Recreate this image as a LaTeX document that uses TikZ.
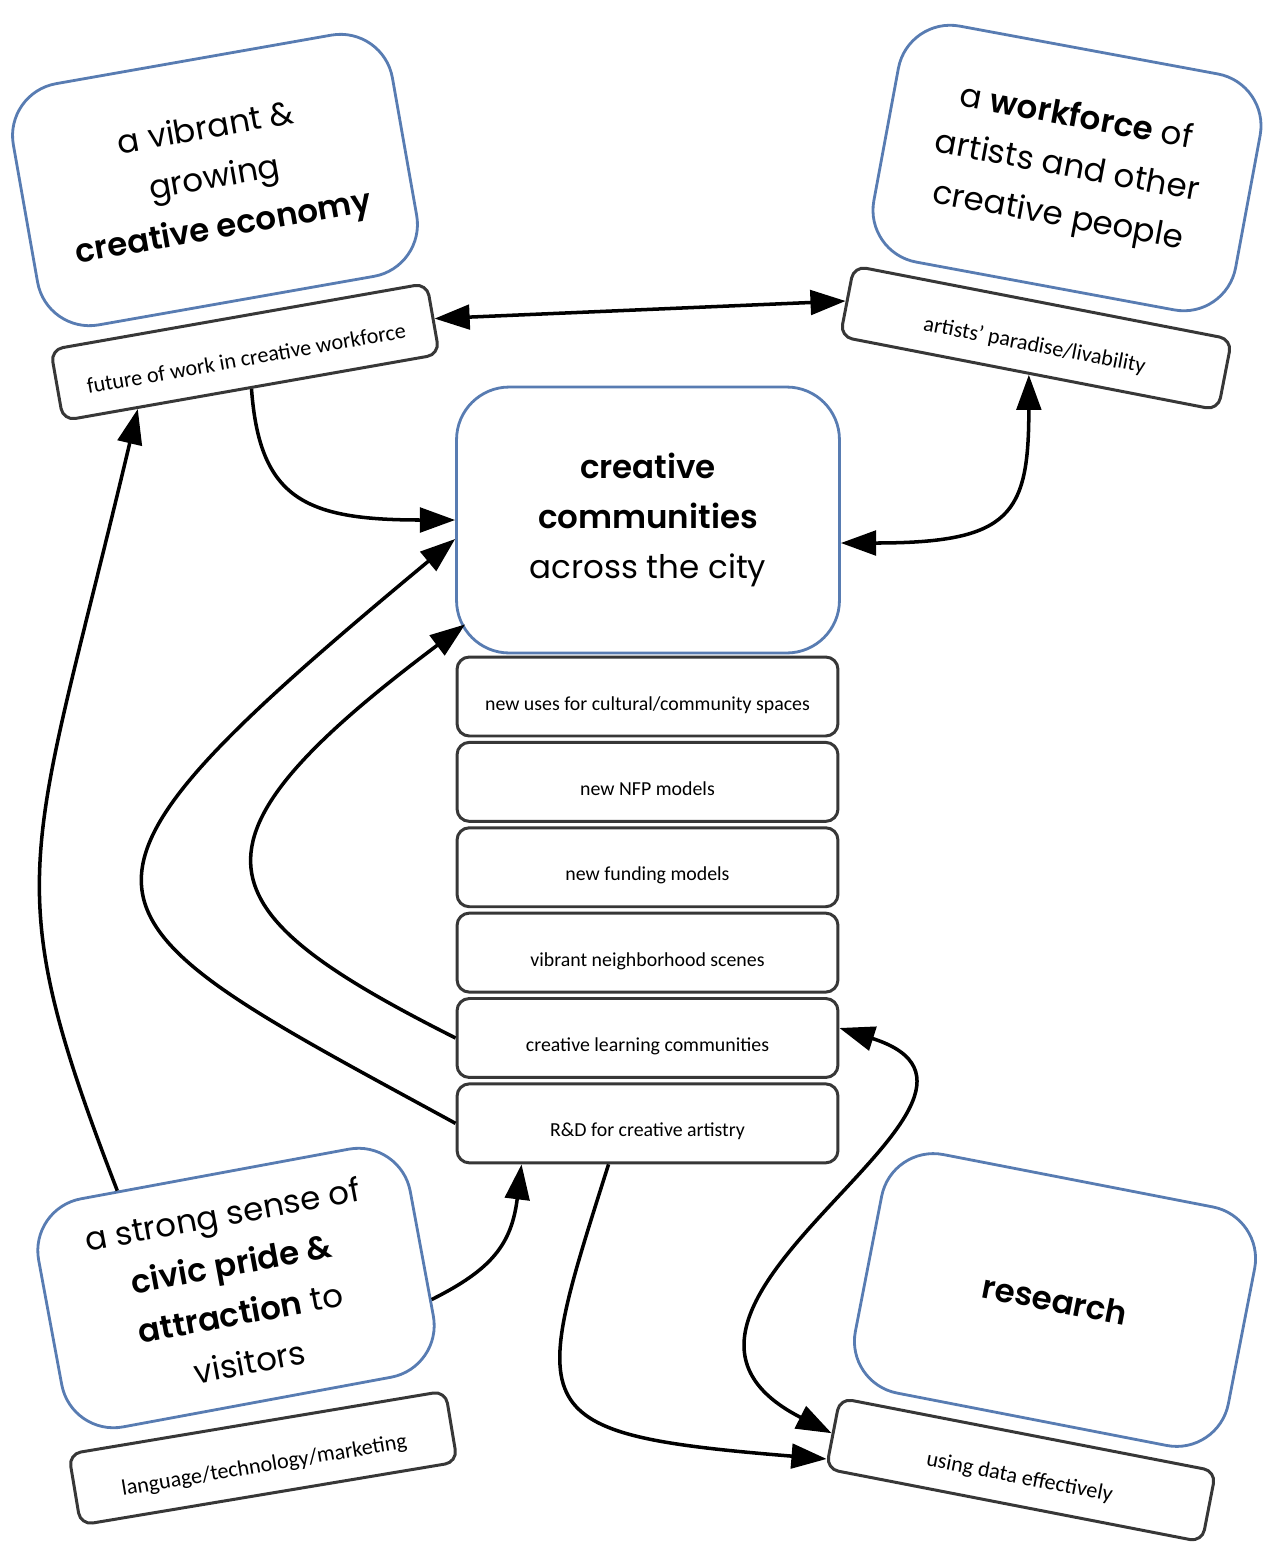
\documentclass[tikz,border=0pt]{standalone}
\usepackage{fontspec}
\newfontfamily\gothic{Poppins}[BoldFont={Poppins SemiBold}]
\newfontfamily\calib{Carlito}
\usetikzlibrary{positioning,calc,arrows.meta}
\definecolor{boxblue}{RGB}{88,124,178}
\definecolor{tagedge}{RGB}{55,55,55}
\tikzset{
	bigbox/.style={draw=boxblue,line width=1.6pt,fill=white,rounded corners=30pt,align=center,inner sep=0pt,font=\gothic\fontsize{18.5}{28.5}\selectfont},
	tagbox/.style={draw=tagedge,line width=1.7pt,fill=white,rounded corners=7pt,inner sep=0pt,minimum width=7.64cm,text height=1.0cm,text depth=0.44cm,font=\calib\fontsize{12.6}{14}\selectfont},
	stackbox/.style={tagbox,minimum width=7.62cm,text height=1.06cm,text depth=0.52cm,font=\calib\fontsize{11.3}{13}\selectfont,text=black},
	link/.style={line width=2pt,-{Triangle[length=20pt,width=14pt]}},
	twoway/.style={line width=2pt,{Triangle[length=20pt,width=14pt]}-{Triangle[length=20pt,width=14pt]}}
}
\begin{document}
\begin{tikzpicture}[x=0.02cm,y=0.02cm]
	\useasboundingbox (0,0) rectangle (1281,-1543);
	% the four corners
	\node[bigbox,minimum width=7.7cm,minimum height=4.9cm,rotate=10] (econ) at (215,-180) {a vibrant \&\\growing\\\textbf{creative economy}};
	\node[bigbox,minimum width=7.36cm,minimum height=4.8cm,rotate=-10.5] (workforce) at (1067,-168) {a \textbf{workforce} of\\artists and other\\creative people};
	\node[bigbox,minimum width=7.56cm,minimum height=4.64cm,rotate=10.5] (civic) at (236,-1288) {a strong sense of\\\textbf{civic pride \&}\\\textbf{attraction} to\\visitors};
	\node[bigbox,minimum width=7.6cm,minimum height=4.86cm,rotate=-11] (research) at (1055,-1300) {\textbf{research}};
	\node[tagbox,rotate=10] (futwork) at (245,-352) {future of work in creative workforce};
	\node[tagbox,minimum width=7.7cm,rotate=-11] (livab) at (1036,-338) {artists’ paradise/livability};
	\node[tagbox,rotate=9.5] (lang) at (263,-1458) {language/technology/marketing};
	\node[tagbox,minimum width=7.66cm,rotate=-11] (usedata) at (1021,-1470) {using data effectively};
	% centre and its stack
	\node[bigbox,minimum width=7.66cm,minimum height=5.32cm] (commun) at (648,-520) {\textbf{creative}\\\textbf{communities}\\across the city};
	\node[stackbox] (newuses) at (647.5,-696.5) {new uses for cultural/community spaces};
	\node[stackbox,below=0.068cm of newuses] (nfp) {new NFP models};
	\node[stackbox,below=0.068cm of nfp] (funding) {new funding models};
	\node[stackbox,below=0.068cm of funding] (scenes) {vibrant neighborhood scenes};
	\node[stackbox,below=0.068cm of scenes] (learn) {creative learning communities};
	\node[stackbox,below=0.068cm of learn] (rd) {R\&D for creative artistry};
	% links
	\draw[twoway] (futwork.east) -- (livab.west);
	\draw[link] (futwork.south) .. controls +(8,-110) and +(-150,0) .. (commun.west);
	\draw[twoway] ($(commun.east)+(0,-23)$) .. controls +(170,0) and +(0,-140) .. (livab.south);
	\draw[link] ($(civic.north west)!0.24!(civic.north east)$) .. controls +(-122,316) and +(-108,-456) .. ($(futwork.south west)!0.2!(futwork.south east)$);
	\draw[link] (rd.west) .. controls +(-391,213) and +(-436,-362) .. ($(commun.west)+(0,-19)$);
	\draw[link] (learn.west) .. controls +(-254,128) and +(-295,-221) .. ($(commun.south west)+(10,30)$);
	\draw[link] ($(civic.east)!0.4!(civic.south east)$) .. controls +(60,30) and +(-10,-80) .. ($(rd.south west)+(66,0)$);
	\draw[link] ($(rd.south west)+(153,0)$) .. controls +(-79,-250) and +(-308,25) .. ($(usedata.west)!0.7!(usedata.south west)$);
	\draw[twoway] ($(learn.east)+(0,10)$) .. controls +(220,-70) and +(-245,125) .. (usedata.west);
\end{tikzpicture}
\end{document}
